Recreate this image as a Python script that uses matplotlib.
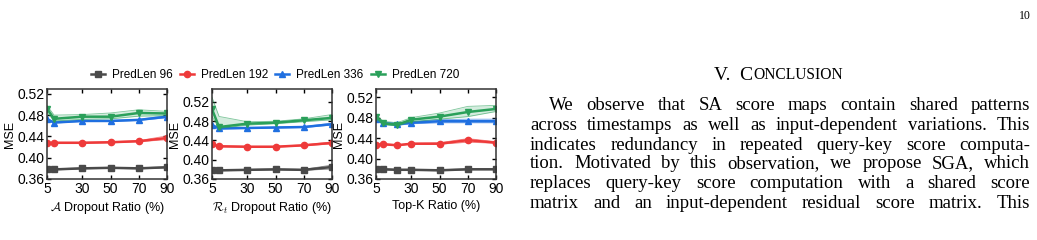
import matplotlib
matplotlib.use("Agg")
import matplotlib.pyplot as plt
from matplotlib.lines import Line2D

plt.rcParams['font.family'] = ['Liberation Sans', 'DejaVu Sans']
plt.rcParams['mathtext.fontset'] = 'cm'

# series names / colours / markers
labels = ["PredLen 96", "PredLen 192", "PredLen 336", "PredLen 720"]
colors = ["#4a4a4a", "#ee3a3a", "#1f6fe0", "#2aa05a"]
markers = ["s", "o", "^", "v"]

# panel 1: A dropout ratio
x_a = [5, 10, 30, 50, 70, 90]
a_mean = [
    [0.378, 0.378, 0.380, 0.381, 0.380, 0.382],
    [0.427, 0.428, 0.428, 0.429, 0.431, 0.437],
    [0.472, 0.466, 0.469, 0.469, 0.471, 0.477],
    [0.492, 0.473, 0.477, 0.477, 0.484, 0.483],
]
a_lo = [
    [0.376, 0.377, 0.379, 0.380, 0.379, 0.381],
    [0.425, 0.427, 0.427, 0.428, 0.430, 0.434],
    [0.470, 0.465, 0.468, 0.468, 0.470, 0.475],
    [0.485, 0.469, 0.472, 0.473, 0.478, 0.479],
]
a_hi = [
    [0.380, 0.379, 0.381, 0.382, 0.381, 0.383],
    [0.429, 0.429, 0.429, 0.430, 0.432, 0.441],
    [0.474, 0.468, 0.470, 0.470, 0.472, 0.479],
    [0.498, 0.480, 0.481, 0.484, 0.490, 0.487],
]

# panel 2: R_t dropout ratio
x_r = [5, 10, 30, 50, 70, 90]
r_mean = [
    [0.378, 0.378, 0.379, 0.380, 0.379, 0.385],
    [0.432, 0.428, 0.427, 0.427, 0.430, 0.435],
    [0.472, 0.465, 0.466, 0.467, 0.468, 0.474],
    [0.505, 0.468, 0.475, 0.477, 0.482, 0.487],
]
r_lo = [
    [0.377, 0.377, 0.378, 0.379, 0.378, 0.381],
    [0.430, 0.427, 0.426, 0.426, 0.429, 0.433],
    [0.470, 0.464, 0.465, 0.466, 0.467, 0.472],
    [0.490, 0.465, 0.472, 0.475, 0.479, 0.483],
]
r_hi = [
    [0.379, 0.379, 0.380, 0.381, 0.380, 0.389],
    [0.434, 0.429, 0.428, 0.428, 0.431, 0.437],
    [0.474, 0.466, 0.467, 0.468, 0.469, 0.476],
    [0.530, 0.490, 0.479, 0.480, 0.485, 0.494],
]

# panel 3: Top-K ratio
x_k = [5, 10, 20, 30, 50, 70, 90]
k_mean = [
    [0.380, 0.379, 0.378, 0.378, 0.377, 0.379, 0.379],
    [0.426, 0.428, 0.426, 0.429, 0.429, 0.436, 0.431],
    [0.478, 0.469, 0.467, 0.470, 0.473, 0.473, 0.473],
    [0.482, 0.469, 0.466, 0.476, 0.482, 0.491, 0.497],
]
k_lo = [
    [0.379, 0.378, 0.377, 0.377, 0.376, 0.378, 0.378],
    [0.425, 0.427, 0.425, 0.428, 0.428, 0.432, 0.430],
    [0.475, 0.467, 0.465, 0.468, 0.470, 0.470, 0.470],
    [0.478, 0.466, 0.464, 0.472, 0.477, 0.482, 0.492],
]
k_hi = [
    [0.381, 0.380, 0.379, 0.379, 0.378, 0.380, 0.380],
    [0.427, 0.429, 0.427, 0.430, 0.431, 0.439, 0.433],
    [0.481, 0.471, 0.469, 0.472, 0.476, 0.477, 0.477],
    [0.486, 0.473, 0.470, 0.480, 0.489, 0.502, 0.504],
]

panels = [
    (x_a, a_mean, a_lo, a_hi, r"$\mathcal{A}$ Dropout Ratio (%)", 0.529),
    (x_r, r_mean, r_lo, r_hi, r"$\mathcal{R}_t$ Dropout Ratio (%)", 0.547),
    (x_k, k_mean, k_lo, k_hi, "Top-K Ratio (%)", 0.536),
]
yticks = [0.36, 0.40, 0.44, 0.48, 0.52]
xticks = [5, 30, 50, 70, 90]

fig = plt.figure(figsize=(10.37, 2.4), dpi=100)
lefts = [47, 212, 376]
for (xs, mean, lo, hi, xlabel, ytop), left in zip(panels, lefts):
    ax = fig.add_axes([left / 1037, 1 - 179 / 240, 120 / 1037, 90 / 240])
    for i in range(4):
        ax.fill_between(xs, lo[i], hi[i], color=colors[i], alpha=0.2, lw=0)
        ax.plot(xs, lo[i], color=colors[i], lw=0.6, alpha=0.6)
        ax.plot(xs, hi[i], color=colors[i], lw=0.6, alpha=0.6)
        ax.plot(xs, mean[i], color=colors[i], lw=1.8, marker=markers[i], ms=4.5)
    ax.set_xlim(5, 90)
    ax.set_ylim(0.36, ytop)
    ax.set_xticks(xticks)
    ax.set_yticks(yticks)
    ax.set_yticklabels([f"{v:.2f}" for v in yticks])
    ax.tick_params(labelsize=10, direction="in", length=3, width=1,
                   top=True, right=True, pad=2)
    for s in ax.spines.values():
        s.set_color("#333333")
        s.set_linewidth(1.1)
    ax.set_ylabel("MSE", fontsize=9, labelpad=1)
    ax.set_xlabel(xlabel, fontsize=9, labelpad=3)

handles = [Line2D([], [], color=c, marker=m, lw=1.8, ms=4.5)
           for c, m in zip(colors, markers)]
fig.legend(handles, labels, loc="center", bbox_to_anchor=(275 / 1037, 1 - 75 / 240),
           ncol=4, frameon=False, fontsize=8.5, handlelength=1.2, handletextpad=0.6,
           columnspacing=0.6, borderpad=0)

# right-hand page text
serif = ['Liberation Serif', 'DejaVu Serif']
fig.text(1031 / 1037, 1 - 16 / 240, "10", family=serif, fontsize=8.5,
         ha="right", va="center")

fig.canvas.draw()
renderer = fig.canvas.get_renderer()

h1 = fig.text(0, 1 - 75 / 240, "V.  C", family=serif, fontsize=14, va="center")
h2 = fig.text(0, 1 - 75 / 240, "ONCLUSION", family=serif, fontsize=11.2, va="center")
w1 = h1.get_window_extent(renderer).width
w2 = h2.get_window_extent(renderer).width
hx = 778 - (w1 + w2) / 2
h1.set_x(hx / 1037)
h2.set_x((hx + w1 + 1) / 1037)

para = [
    "We observe that SA score maps contain shared patterns",
    "across timestamps as well as input-dependent variations. This",
    "indicates redundancy in repeated query-key score computa-",
    "tion. Motivated by this observation, we propose SGA, which",
    "replaces query-key score computation with a shared score",
    "matrix and an input-dependent residual score matrix. This",
]
line_y = [106, 125, 145, 164, 184, 203]
right_edge = 1030
for k, (line, yy) in enumerate(zip(para, line_y)):
    x0 = 549 if k == 0 else 530
    words = line.split()
    objs = [fig.text(0, 1 - yy / 240, w, family=serif, fontsize=13.5, va="center")
            for w in words]
    widths = [o.get_window_extent(renderer).width for o in objs]
    gap = (right_edge - x0 - sum(widths)) / (len(words) - 1)
    xx = x0
    for o, w in zip(objs, widths):
        o.set_x(xx / 1037)
        xx += w + gap

fig.savefig("out.png", dpi=100)
